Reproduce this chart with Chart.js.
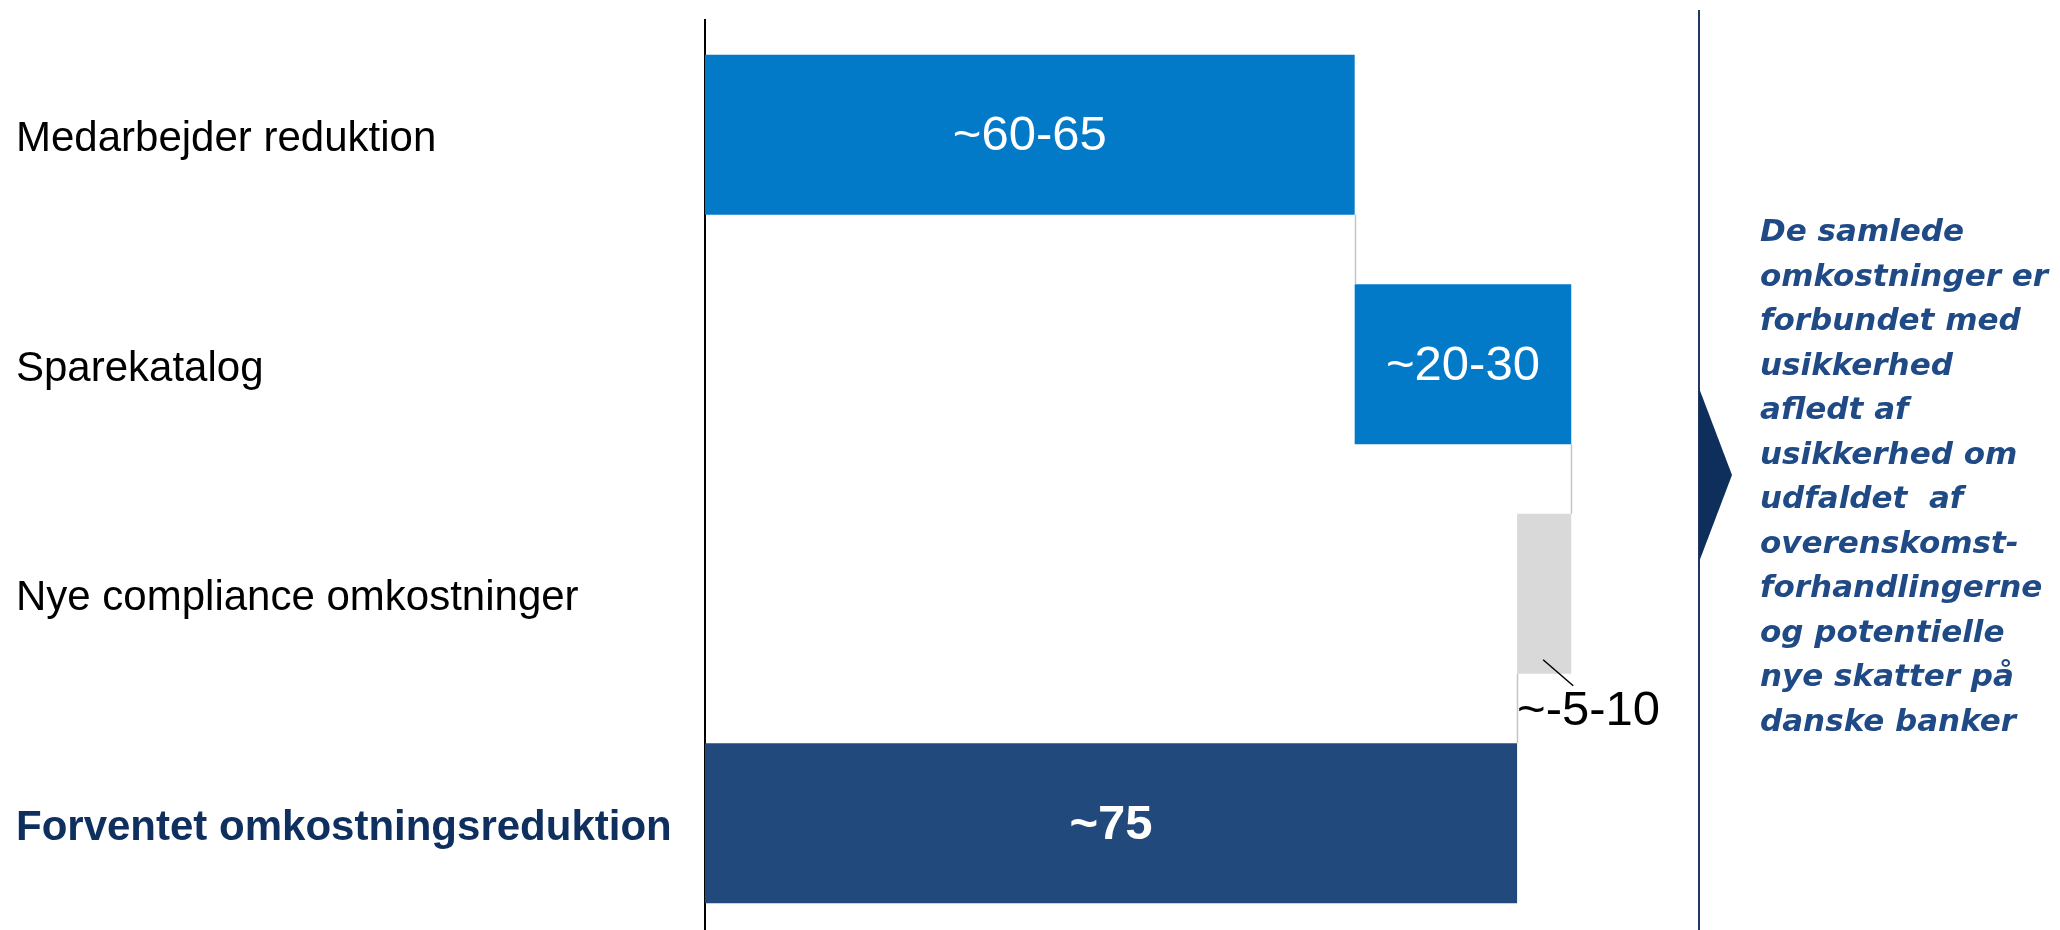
<!DOCTYPE html>
<html>
<head>
<meta charset="utf-8">
<script src="https://cdn.jsdelivr.net/npm/chart.js@4.4.1/dist/chart.umd.min.js"></script>
<style>
html, body { margin: 0; padding: 0; background: #fff; overflow: hidden; }
#wrap { position: relative; width: 2060px; height: 940px; }
#note {
	position: absolute; left: 1760px; top: 208px;
	font: italic bold 31px "DejaVu Sans", sans-serif;
	line-height: 44.5px; color: #1f4a85; white-space: pre;
}
</style>
</head>
<body>
<div id="wrap">
	<canvas id="chart" width="2060" height="940"></canvas>
	<div id="note">De samlede
omkostninger er
forbundet med
usikkerhed
afledt af
usikkerhed om
udfaldet  af
overenskomst-
forhandlingerne
og potentielle
nye skatter på
danske banker</div>
</div>
<script>
// data
var categories = ['Medarbejder reduktion', 'Sparekatalog', 'Nye compliance omkostninger', 'Forventet omkostningsreduktion'];
var barStart = [0, 60, 75, 0];
var barEnd = [60, 80, 80, 75];
var runningTotal = [60, 80, 75];
var valueLabels = ['~60-65', '~20-30', '~-5-10', '~75'];
var barColors = ['#027ac8', '#027ac8', '#d9d9d9', '#21497c'];
var xMax = 91.8;

var extras = {
	id: 'extras',
	afterDatasetsDraw: function(chart){
		var c = chart.ctx;
		var x = chart.scales.x;
		var bars = chart.getDatasetMeta(0).data;

		// connectors between steps
		c.save();
		c.strokeStyle = '#c4c4c4';
		c.lineWidth = 1.5;
		for (var i = 0; i < runningTotal.length; i++) {
			var px = Math.round(x.getPixelForValue(runningTotal[i])) + 0.5;
			var a = bars[i], b = bars[i + 1];
			c.beginPath();
			c.moveTo(px, a.y + a.height / 2);
			c.lineTo(px, b.y - b.height / 2);
			c.stroke();
		}
		c.restore();

		// value labels
		c.save();
		c.textBaseline = 'middle';
		bars.forEach(function(bar, i){
			var left = Math.min(bar.x, bar.base), right = Math.max(bar.x, bar.base);
			if (i === 2) {
				var bottom = bar.y + bar.height / 2;
				c.strokeStyle = '#000';
				c.lineWidth = 1.5;
				c.beginPath();
				c.moveTo(left + 26, bottom - 14);
				c.lineTo(right + 2, bottom + 12);
				c.stroke();
				c.fillStyle = '#000';
				c.textAlign = 'left';
				c.font = '49px "Liberation Sans"';
				c.fillText(valueLabels[i], left, bottom + 38);
			} else {
				c.fillStyle = '#fff';
				c.textAlign = 'center';
				c.font = (i === 3 ? 'bold ' : '') + '49px "Liberation Sans"';
				c.fillText(valueLabels[i], (left + right) / 2, bar.y + 2);
			}
		});
		c.restore();

		// divider and arrow on the right
		c.save();
		c.strokeStyle = '#1f3864';
		c.lineWidth = 2;
		c.beginPath();
		c.moveTo(1699, 10);
		c.lineTo(1699, 940);
		c.stroke();
		c.fillStyle = '#0e2f5c';
		c.beginPath();
		c.moveTo(1699, 388);
		c.lineTo(1732, 475);
		c.lineTo(1699, 562);
		c.closePath();
		c.fill();
		c.restore();
	}
};

var ctx = document.getElementById('chart');
var myChart = new Chart(ctx, {
	type: 'bar',
	data: {
		labels: categories,
		datasets: [{
			data: categories.map(function(_, i){ return [barStart[i], barEnd[i]]; }),
			backgroundColor: barColors,
			borderWidth: 0,
			barPercentage: 0.697,
			categoryPercentage: 1
		}]
	},
	options: {
		indexAxis: 'y',
		responsive: false,
		animation: false,
		layout: { padding: { left: 16, right: 361, top: 20, bottom: 2 } },
		plugins: {
			legend: { display: false },
			tooltip: { enabled: false }
		},
		scales: {
			x: {
				display: false,
				min: 0,
				max: xMax
			},
			y: {
				grid: { display: false },
				border: { display: true, color: '#000', width: 2 },
				afterFit: function(scale){ scale.width = 689; },
				ticks: {
					crossAlign: 'far',
					padding: 0,
					labelOffset: 5,
					color: function(c){ return c.index === 3 ? '#0f2f5e' : '#000'; },
					font: function(c){
						return { family: 'Liberation Sans', size: 42, lineHeight: 0.05, weight: c.index === 3 ? 'bold' : 'normal' };
					}
				}
			}
		}
	},
	plugins: [extras]
});
</script>
</body>
</html>
